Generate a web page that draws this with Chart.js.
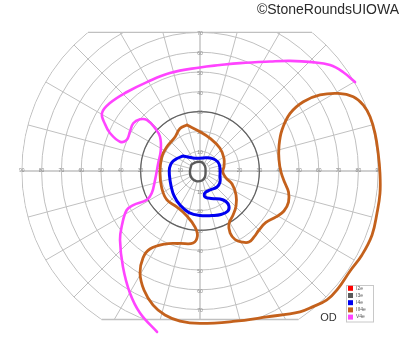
<!DOCTYPE html>
<html>
<head>
<meta charset="utf-8">
<script src="https://cdn.jsdelivr.net/npm/chart.js@4"></script>
<style>
html,body{margin:0;padding:0;background:#fff;}
#wrap{width:400px;height:352px;}
</style>
</head>
<body>
<div id="wrap"><canvas id="c" width="400" height="352"></canvas></div>
<script>
// ---- data (degrees of visual field, x = horizontal, y = vertical) ----
const isopterLabels = ['I2e', 'I3e', 'I4e', 'III4e', 'V4e'];
const isopterColors = ['#ff0000', '#5a5a5a', '#0000f0', '#c4611c', '#ff44ff'];

const i2eX = [];
const i2eY = [];

const i3eX = [-4.3, -1.8, 0.8, 2.5, 2.8, 2.5, 1.0, -2.0, -4.3, -5.1, -4.3];
const i3eY = [3.3, 4.5, 4.5, 2.5, -0.5, -3.0, -4.8, -5.1, -3.5, -0.5, 3.3];

const i4eX = [-8.6, -6.1, -2.5, 1.5, 6.1, 9.1, 10.1, 10.1, 10.1, 8.6, 5.1, 2.5, 2.5, 5.6, 10.1, 13.1, 14.6, 14.1, 10.6, 6.1, 0, -5.6, -10.1, -13.1, -14.6, -15.4, -15.4, -14.1, -11.6, -8.6];
const i4eY = [7.6, 7.1, 6.4, 6.6, 6.4, 4.5, 1.5, -2.5, -5.6, -8.1, -9.6, -11.1, -13.1, -13.9, -14.1, -15.4, -17.7, -20.2, -22.0, -22.5, -22.5, -21.0, -17.2, -12.6, -7.6, -2.5, 1.5, 4.5, 6.3, 7.6];

const iii4eX = [-6.6, 0, 5.1, 10.1, 12.1, 12.1, 11.5, 13.1, 16.2, 18.2,
  18.2, 16.7, 14.6, 15.2, 17.7, 21.2, 24.7, 27.3, 29.8, 33.3,
  38.4, 42.4, 44.7, 44.7, 42.9, 40.9, 39.9, 39.9, 41.4, 45.5,
  52.2, 60.6, 69.8, 77.4, 82.5, 85.9, 88.4, 90.0, 90.9, 90.9,
  89.4, 86.9, 81.8, 75.8, 69.2, 64.1, 57.1, 50.5, 33.8, 16.7,
  0, -10.1, -17.7, -23.7, -28.3, -30.3, -28.8, -25.3, -17.7, -10.1,
  -3.5, -1.3, -2.5, -6.6, -11.6, -16.7, -19.3, -20.2, -19.3, -16.8,
  -12.6, -10.1, -6.6];
const iii4eY = [23.2, 19.8, 16.5, 11.5, 6.4, 2.2, -0.5, -3.5, -6.6, -12.1,
  -17.7, -22.2, -26.8, -31.3, -34.6, -35.9, -35.9, -33.3, -29.8, -26.0,
  -23.2, -20.2, -15.7, -10.6, -6.1, -0.5, 5.6, 12.6, 20.7, 29.1,
  35.0, 38.4, 39.2, 37.5, 33.3, 27.4, 19.0, 8.9, -1.2, -11.3,
  -21.2, -32.3, -42.4, -50.5, -60.1, -65.1, -68.5, -71.1, -73.7, -76.0,
  -77.0, -75.8, -72.7, -67.7, -60.1, -51.5, -43.9, -39.4, -36.9, -36.6,
  -36.4, -32.8, -28.3, -22.7, -18.2, -14.6, -8.7, -1.0, 7.1, 12.1,
  17.2, 21.5, 23.2];

const v4eX = [78.3, 72.2, 65.7, 56.6, 45.5, 35.4, 20.2, 10.1, 0, -15.2,
  -26.8, -36.9, -45.5, -49.5, -48.0, -45.5, -40.4, -37.0, -35.4, -33.7,
  -30.3, -26.9, -22.7, -20.2, -19.8, -21.1, -22.7, -24.4, -26.9, -33.7,
  -37.0, -39.4, -40.4, -38.9, -35.4, -30.3, -21.7];
const v4eY = [44.9, 50.0, 53.5, 55.0, 55.6, 55.3, 54.5, 53.5, 52.3, 49.5,
  44.9, 39.9, 34.3, 29.3, 23.7, 19.2, 14.8, 15.7, 19.8, 24.1,
  26.1, 25.8, 21.6, 17.3, 10.6, 3.9, -4.5, -11.3, -14.6, -17.2,
  -19.7, -27.3, -34.8, -48.5, -61.6, -71.7, -81.3];

// grid / tick values
const ringDegrees = [5, 10, 20, 30, 40, 50, 60, 70, 80, 90];
const meridianDegrees = [0, 15, 30, 45, 60, 75, 90, 105, 120, 135, 150, 165, 180, 195, 210, 225, 240, 255, 270, 285, 300, 315, 330, 345];
const meridianInner = 5;
const horizontalTickLabels = [10, 20, 30, 40, 50, 60, 70, 80, 90];
const verticalTickLabels = [10, 20, 30, 40, 50, 60, 70];
const fieldTop = 70;
const fieldBottom = -75;
const fieldRadius = 90;
const emphasisRing = 30;
const titleText = '\u00A9StoneRoundsUIOWA';
const eyeText = 'OD';

// ---- build ----
const K = 1.98; // pixels per degree
const W = 400, H = 352, CX = 200, CY = 171;

function pts(xs, ys) { return xs.map((v, i) => ({ x: v, y: ys[i] })); }
const seriesX = [i2eX, i3eX, i4eX, iii4eX, v4eX];
const seriesY = [i2eY, i3eY, i4eY, iii4eY, v4eY];
const widths = [2.5, 2.4, 3, 2.8, 2.6];

const datasets = isopterLabels.map((lab, i) => ({
  label: lab,
  data: pts(seriesX[i], seriesY[i]),
  borderColor: isopterColors[i],
  backgroundColor: isopterColors[i],
  borderWidth: widths[i],
  showLine: true,
  pointRadius: 0,
  tension: 0.4,
  fill: false,
  borderJoinStyle: 'round',
  borderCapStyle: 'round',
  clip: false,
  order: i < 3 ? 0 : 1
}));

const gridPlugin = {
  id: 'goldmannGrid',
  beforeDatasetsDraw(chart) {
    const ctx = chart.ctx;
    const xs = chart.scales.x, ys = chart.scales.y;
    const cx = xs.getPixelForValue(0), cy = ys.getPixelForValue(0);
    const pr = d => xs.getPixelForValue(d) - cx;
    const R = pr(fieldRadius);
    const yTop = ys.getPixelForValue(fieldTop), yBot = ys.getPixelForValue(fieldBottom);
    ctx.save();
    ctx.beginPath(); ctx.rect(0, yTop, chart.width, yBot - yTop); ctx.clip();
    ctx.beginPath(); ctx.arc(cx, cy, R + 0.6, 0, Math.PI * 2); ctx.clip();
    ctx.strokeStyle = '#c0c0c0';
    ctx.lineWidth = 1;
    ringDegrees.forEach(r => {
      ctx.beginPath(); ctx.arc(cx, cy, pr(r), 0, Math.PI * 2); ctx.stroke();
    });
    meridianDegrees.forEach(a => {
      const t = a * Math.PI / 180;
      const r0 = (a % 90 === 0) ? 0 : pr(meridianInner);
      ctx.beginPath();
      ctx.moveTo(cx + Math.cos(t) * r0, cy - Math.sin(t) * r0);
      ctx.lineTo(cx + Math.cos(t) * R, cy - Math.sin(t) * R);
      ctx.lineWidth = (a % 90 === 0) ? 1.4 : 1;
      ctx.stroke();
    });
    ctx.restore();
    // top / bottom borders
    ctx.save();
    ctx.strokeStyle = '#c0c0c0';
    ctx.lineWidth = 1.3;
    [yTop, yBot].forEach(yy => {
      const dy = Math.abs(yy - cy);
      const hw = Math.sqrt(Math.max(0, R * R - dy * dy));
      ctx.beginPath(); ctx.moveTo(cx - hw, yy); ctx.lineTo(cx + hw, yy); ctx.stroke();
    });
    // emphasised 30 ring
    ctx.strokeStyle = '#616161';
    ctx.lineWidth = 1.2;
    ctx.beginPath(); ctx.arc(cx, cy, pr(emphasisRing), 0, Math.PI * 2); ctx.stroke();
    // tick labels
    ctx.fillStyle = '#8a8a8a';
    ctx.font = '5px "Liberation Sans", Arial, sans-serif';
    ctx.textAlign = 'center';
    ctx.textBaseline = 'middle';
    horizontalTickLabels.forEach(v => {
      ctx.fillText(String(v), xs.getPixelForValue(v), cy);
      ctx.fillText(String(v), xs.getPixelForValue(-v), cy);
    });
    verticalTickLabels.forEach(v => {
      ctx.fillText(String(v), cx, ys.getPixelForValue(v) + 1.5);
      ctx.fillText(String(v), cx, ys.getPixelForValue(-v) + 1.5);
    });
    ctx.restore();
  },
  afterDraw(chart) {
    const ctx = chart.ctx;
    ctx.save();
    // title
    ctx.fillStyle = '#2a2a2a';
    ctx.font = '14px "Liberation Sans", Arial, sans-serif';
    ctx.textAlign = 'right';
    ctx.textBaseline = 'alphabetic';
    ctx.fillText(titleText, 399, 14);
    // eye
    ctx.fillStyle = '#333';
    ctx.font = '11px "Liberation Sans", Arial, sans-serif';
    ctx.textAlign = 'center';
    ctx.fillText(eyeText, 328.5, 320.5);
    // legend
    const bx = 346, by = 285, bw = 27, bh = 36.5;
    ctx.fillStyle = '#fff';
    ctx.fillRect(bx, by, bw, bh);
    ctx.strokeStyle = '#c8c8c8';
    ctx.lineWidth = 1;
    ctx.strokeRect(bx + 0.5, by + 0.5, bw, bh);
    ctx.font = '5px "Liberation Sans", Arial, sans-serif';
    ctx.textAlign = 'left';
    ctx.textBaseline = 'middle';
    chart.data.datasets.forEach((ds, i) => {
      const yy = by + 3.3 + i * 7.2;
      ctx.fillStyle = ds.borderColor;
      ctx.fillRect(bx + 2, yy - 2.5, 5, 5);
      ctx.fillStyle = '#555';
      ctx.fillText(ds.label, bx + 10, yy);
    });
    ctx.restore();
  }
};

new Chart(document.getElementById('c'), {
  type: 'scatter',
  data: { datasets },
  options: {
    responsive: false,
    animation: false,
    devicePixelRatio: 1,
    layout: { padding: 0 },
    plugins: { legend: { display: false }, tooltip: { enabled: false }, title: { display: false } },
    scales: {
      x: { type: 'linear', display: false, min: -CX / K, max: (W - CX) / K },
      y: { type: 'linear', display: false, min: -(H - CY) / K, max: CY / K }
    }
  },
  plugins: [gridPlugin]
});
</script>
</body>
</html>
